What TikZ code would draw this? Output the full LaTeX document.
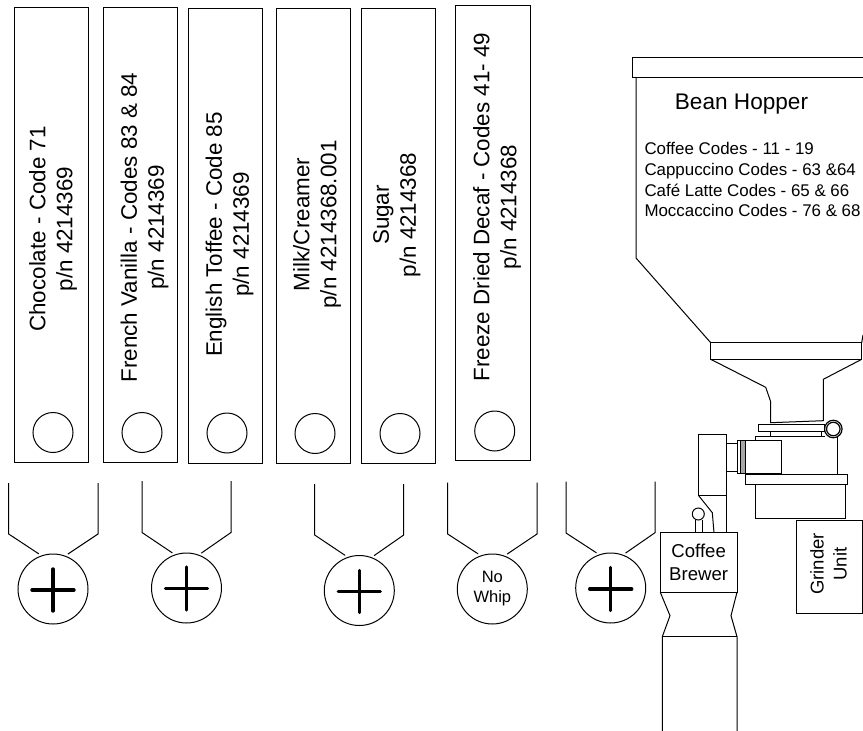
\documentclass[tikz,border=0pt]{standalone}
\usepackage{fontspec}
\setmainfont{Liberation Sans}
\usetikzlibrary{positioning}

\begin{document}
\begin{tikzpicture}[
    x=1pt, y=-1pt,
    line width=1pt,
    slot/.style={draw, minimum width=74.3pt, inner sep=0pt, anchor=south west},
    port/.style={draw, circle, minimum size=40pt, inner sep=0pt},
    dial/.style={draw, circle, minimum size=70pt, inner sep=0pt, outer sep=2.9pt, align=center, font=\fontsize{16.5}{20}\selectfont},
    plusarm/.style={line width=3.4pt, line cap=round},
    binlabel/.style={rotate=90, align=center, inner sep=0pt, font=\fontsize{22.4}{27}\selectfont},
    part/.style={draw, minimum size=0pt, inner sep=0pt, align=center}
]
\useasboundingbox (0,0) rectangle (863,731);

% Canisters
\node[slot, minimum height=455.2pt] (bin1) at (13.7,462.7) {};
\node[slot, minimum height=455.2pt] (bin2) at (102.7,462.7) {};
\node[slot, minimum height=455.3pt] (bin3) at (187.7,464) {};
\node[slot, minimum height=455.3pt] (bin4) at (275.7,464) {};
\node[slot, minimum height=455.3pt] (bin5) at (360.7,464) {};
\node[slot, minimum height=455pt] (bin6) at (455.3,461) {};

\node[port] (port1) at (53,432.5) {};
\node[port] (port2) at (142,432.5) {};
\node[port] (port3) at (227,433) {};
\node[port] (port4) at (315,433.5) {};
\node[port] (port5) at (400,433.5) {};
\node[port] (port6) at (494.7,431) {};

\node[binlabel] (text1) at (53,229) {Chocolate - Code 71\\p/n 4214369};
\node[binlabel] (text2) at (144.5,227.5) {French Vanilla - Codes 83 \& 84\\p/n 4214369};
\node[binlabel] (text3) at (229.5,234.5) {English Toffee - Code 85\\p/n 4214369};
\node[binlabel] (text4) at (317,224.5) {Milk/Creamer\\p/n 4214368.001};
\node[binlabel] (text5) at (397,215) {Sugar\\p/n 4214368};
\node[binlabel] (text6) at (497,207) {Freeze Dried Decaf - Codes 41- 49\\p/n 4214368};

% Dials and cups
\node[dial] (dial1) at (53,589) {};
\node[dial] (dial2) at (186.5,588) {};
\node[dial] (dial3) at (359.3,590.5) {};
\node[dial] (dial4) at (492.3,589) {No\\Whip};
\node[dial] (dial5) at (610.7,588) {};

\draw (8.7,483) -- (8.7,534) -- (dial1.112.5);
\draw (98,483) -- (98,534) -- (dial1.67.5);
\draw (142,481) -- (142,532.5) -- (dial2.112.5);
\draw (231,481) -- (231,532.5) -- (dial2.67.5);
\draw (314.7,484) -- (314.7,535) -- (dial3.112.5);
\draw (403.7,484) -- (403.7,535) -- (dial3.67.5);
\draw (447.7,482.7) -- (447.7,534) -- (dial4.112.5);
\draw (537,482.7) -- (537,534) -- (dial4.67.5);
\draw (566,481.5) -- (566,533) -- (dial5.112.5);
\draw (655,481.7) -- (655,532.7) -- (dial5.67.5);

\draw[plusarm] ([xshift=-21pt,yshift=-1pt]dial1.center) -- ([xshift=21pt,yshift=-1pt]dial1.center);
\draw[plusarm] ([yshift=20pt]dial1.center) -- ([yshift=-22pt]dial1.center);
\draw[plusarm] ([xshift=-21pt,yshift=-.5pt]dial2.center) -- ([xshift=21pt,yshift=-.5pt]dial2.center);
\draw[plusarm] ([yshift=21pt]dial2.center) -- ([yshift=-22pt]dial2.center);
\draw[plusarm] ([xshift=-21pt,yshift=-1pt]dial3.center) -- ([xshift=21pt,yshift=-1pt]dial3.center);
\draw[plusarm] ([yshift=20pt]dial3.center) -- ([yshift=-22pt]dial3.center);
\draw[plusarm] ([xshift=-21pt,yshift=-1pt]dial5.center) -- ([xshift=21pt,yshift=-1pt]dial5.center);
\draw[plusarm] ([yshift=20.5pt]dial5.center) -- ([yshift=-22.5pt]dial5.center);

% Bean hopper
\draw (863,57.3) -- (632,57.3) -- (632,77.3) -- (863,77.3);
\draw (636,77.3) -- (636,258) -- (710.7,342.7);
\draw (863,335) -- (861.7,342.7);
\draw (710.7,342.7) rectangle (861.7,359.3);
\draw (710.7,359.3) -- (765.7,387.3) -- (770.7,401.7) -- (770.7,422.7) -- (823.3,420.7) -- (823.3,379.3) -- (861.7,359.3);
\node[anchor=base, inner sep=0pt, font=\fontsize{22.6}{27}\selectfont] (hoppername) at (741.5,109.3) {Bean Hopper};
\node[anchor=north west, inner sep=0pt, align=left, font=\fontsize{16.9}{20.9}\selectfont] (hoppercodes) at (644,141.5) {Coffee Codes - 11 - 19\\Cappuccino Codes - 63 \&64\\Café Latte Codes - 65 \& 66\\Moccaccino Codes - 76 \& 68};

% Grinder
\draw (758,424) rectangle (824,431.3);
\draw (770.7,431.3) -- (770.7,436);
\draw (821.7,431.3) -- (821.7,436);
\draw (755.3,440.7) -- (755.3,436) -- (825,436);
\node[part, circle, fill=white, minimum size=17.5pt, line width=1.2pt] (ringouter) at (833.3,429) {};
\node[part, circle, minimum size=13.5pt, line width=1.2pt] (ringinner) at (833.3,429) {};
\draw (837.3,437) -- (837.3,474.7);
\draw (745,440.7) rectangle (781.3,473.7);
\draw[fill=black!35] (737.3,440.7) rectangle (745,473.7);
\draw[fill=white] (737.3,440.7) rectangle (740,473.7);
\draw (726,443.3) -- (737.3,443.3) (726,471.3) -- (737.3,471.3);
\draw (745.3,474.7) rectangle (847.3,484.3);
\draw (755.3,484.3) rectangle (845,518);
\node[part, minimum width=66pt, minimum height=93.3pt] (grinderbox) at (829.3,567.3) {};
\node[rotate=90, align=center, inner sep=0pt, font=\fontsize{18.5}{23}\selectfont] (grindertext) at (828.5,564) {Grinder\\Unit};

% Brewer
\node[part, minimum width=76.7pt, minimum height=59.6pt, font=\fontsize{18.6}{22.6}\selectfont] (brewer) at (698.65,562.5) {Coffee\\Brewer};
\draw (726,532.7) -- (726,434) -- (698.7,434) -- (698.7,495.7) -- (726,495.7);
\draw (698.7,495.7) -- (712.3,512.7) -- (714,532.7);
\node[part, circle, minimum size=12pt] (knob) at (698.3,514) {};
\draw (695.7,519.5) -- (695.7,532.7) (702,519.5) -- (702,532.7);
\draw (660.3,592.3) -- (670,615.7) -- (662.3,636.7) -- (662.3,731);
\draw (737,592.3) -- (731,615.7) -- (737,636.7) -- (737,731);
\draw (662.3,636.7) -- (737,636.7);

\end{tikzpicture}
\end{document}
